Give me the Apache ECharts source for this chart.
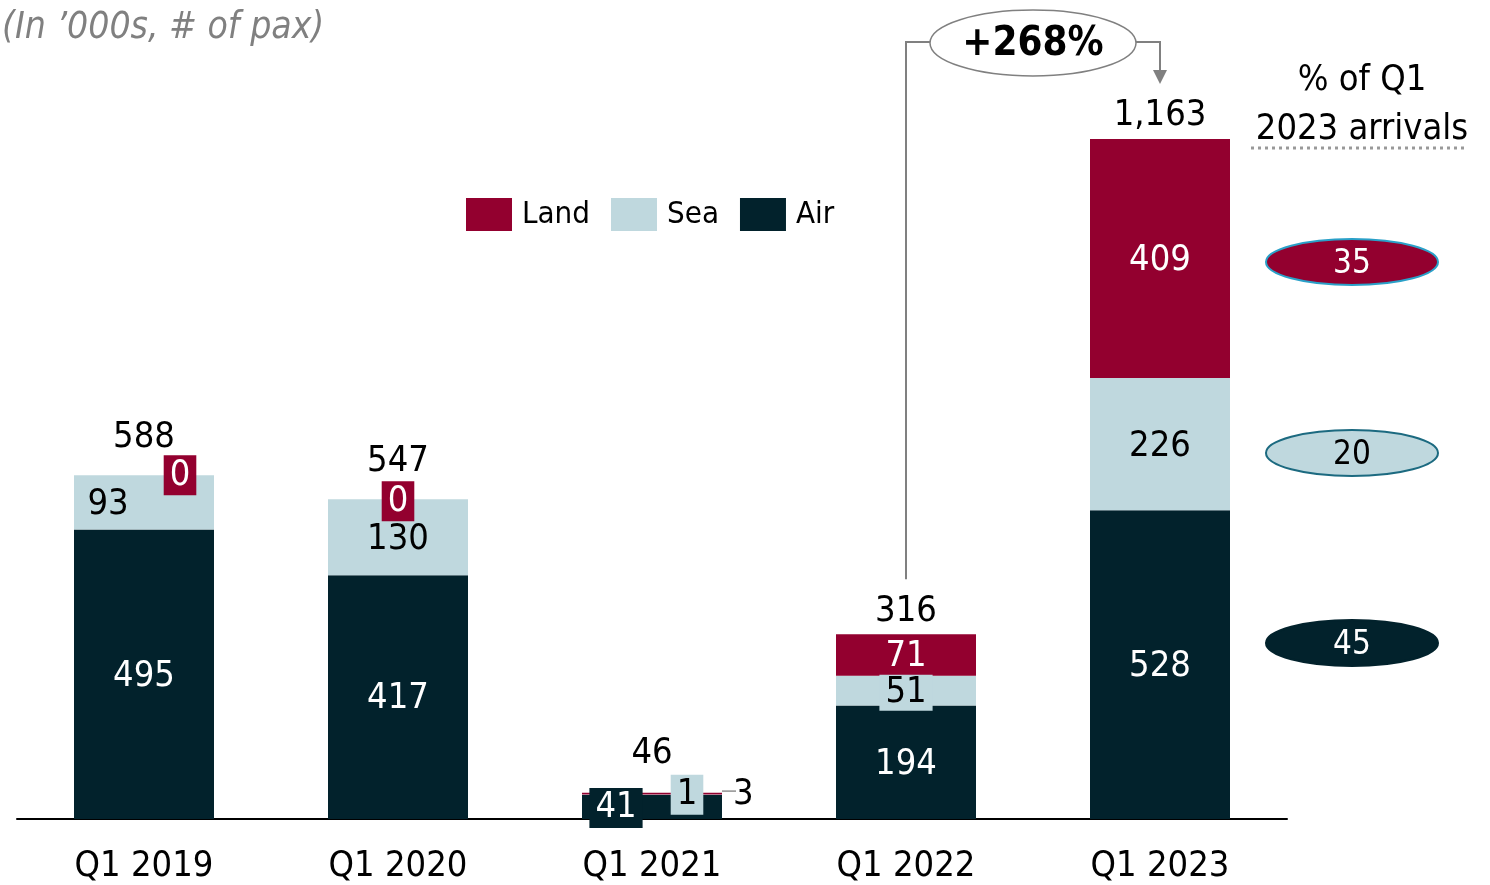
<!DOCTYPE html>
<html>
<head>
<meta charset="utf-8">
<script src="https://cdn.jsdelivr.net/npm/echarts@6/dist/echarts.min.js"></script>
<style>
  html, body { margin: 0; padding: 0; background: #fff; }
  #chart { width: 1490px; height: 885px; }
</style>
</head>
<body>
<div id="chart"></div>
<script>
  // 数据
  var categories = ['Q1 2019', 'Q1 2020', 'Q1 2021', 'Q1 2022', 'Q1 2023'];
  var airValues = [495, 417, 41, 194, 528];
  var seaValues = [93, 130, 1, 51, 226];
  var landValues = [0, 0, 3, 71, 409];
  var totalValues = [588, 547, 46, 316, 1163];
  var shareLabels = ['Land', 'Sea', 'Air'];
  var shareValues = [35, 20, 45];
  var growthLabel = '+268%';

  var FONT = "'DejaVu Sans Condensed', 'DejaVu Sans', sans-serif";
  var LAND = '#93002f';
  var SEA = '#bfd8de';
  var AIR = '#02222c';

  var chart = echarts.init(document.getElementById('chart'));

  function fmt (v) {
    return String(v).replace(/\B(?=(\d{3})+(?!\d))/g, ',');
  }

  // 每个柱子的特殊标签位置
  var airData = airValues.map(function (v, i) {
    var item = { value: v };
    if (i === 2) {
      item.label = { offset: [-36, 1], backgroundColor: AIR, padding: [2, 6] };
    }
    return item;
  });
  var seaData = seaValues.map(function (v, i) {
    var item = { value: v };
    if (i === 0) item.label = { offset: [-36, 2] };
    if (i === 2) item.label = { offset: [35, 0], backgroundColor: SEA, padding: [2, 6] };
    if (i === 3) item.label = { backgroundColor: SEA, padding: [0, 6] };
    return item;
  });
  var landData = landValues.map(function (v, i) {
    var item = { value: v };
    if (i === 0) item.label = { offset: [36, 0], backgroundColor: LAND, padding: [2, 6] };
    if (i === 1) item.label = { backgroundColor: LAND, padding: [2, 6] };
    if (i === 2) {
      item.label = { position: 'right', distance: 11, color: '#000', offset: [0, 1] };
    }
    return item;
  });
  var totalData = totalValues.map(function (v, i) {
    var d = (i < 3) ? 20 : 5;
    return { value: v, label: { distance: d } };
  });

  var labelBase = {
    show: true,
    position: 'inside',
    offset: [0, 2],
    fontFamily: FONT,
    fontSize: 36
  };

  chart.setOption({
    animation: false,
    backgroundColor: '#fff',
    title: {
      text: '(In \u2019000s, # of pax)',
      left: 0,
      top: 0,
      padding: [10, 2],
      textStyle: {
        fontFamily: FONT,
        fontSize: 37,
        fontStyle: 'italic',
        fontWeight: 'normal',
        color: '#808080'
      }
    },
    legend: {
      data: ['Land', 'Sea', 'Air'],
      left: 466,
      top: 198,
      padding: 0,
      itemWidth: 46,
      itemHeight: 33,
      itemGap: 21,
      icon: 'rect',
      textStyle: { fontFamily: FONT, fontSize: 31, color: '#000', padding: [4, 0, 0, 5] }
    },
    grid: {
      left: 17,
      right: 203,
      top: 117.3,
      bottom: 65
    },
    xAxis: {
      type: 'category',
      data: categories,
      axisLine: { lineStyle: { color: '#000', width: 2 } },
      axisTick: { show: false },
      axisLabel: { fontFamily: FONT, fontSize: 36, color: '#000', margin: 30 }
    },
    yAxis: {
      type: 'value',
      min: 0,
      max: 1200,
      show: false,
      splitLine: { show: false }
    },
    series: [
      {
        name: 'Air',
        type: 'bar',
        stack: 'pax',
        barWidth: 140,
        itemStyle: { color: AIR },
        label: Object.assign({ color: '#fff' }, labelBase),
        data: airData
      },
      {
        name: 'Sea',
        type: 'bar',
        stack: 'pax',
        barWidth: 140,
        itemStyle: { color: SEA },
        label: Object.assign({ color: '#000' }, labelBase),
        data: seaData
      },
      {
        name: 'Land',
        type: 'bar',
        stack: 'pax',
        barWidth: 140,
        itemStyle: { color: LAND },
        label: Object.assign({ color: '#fff' }, labelBase),
        data: landData
      },
      {
        // 总数标签：透明柱
        name: 'Total',
        type: 'bar',
        barWidth: 140,
        barGap: '-100%',
        silent: true,
        z: 1,
        itemStyle: { color: 'rgba(0,0,0,0)' },
        label: {
          show: true,
          position: 'top',
          fontFamily: FONT,
          fontSize: 36,
          color: '#000',
          formatter: function (p) { return fmt(p.value); }
        },
        data: totalData
      }
    ]
  });

  // 注释：增长箭头、右侧占比椭圆
  var x21 = chart.convertToPixel({ xAxisIndex: 0 }, categories[2]);
  var x22 = chart.convertToPixel({ xAxisIndex: 0 }, categories[3]);
  var x23 = chart.convertToPixel({ xAxisIndex: 0 }, categories[4]);
  var yTop22 = chart.convertToPixel({ yAxisIndex: 0 }, totalValues[3]);
  var yTop21 = chart.convertToPixel({ yAxisIndex: 0 }, totalValues[2]);
  var lineY = 42;
  var gx = 1033;
  var grey = '#808080';

  var shareFill = { Land: LAND, Sea: SEA, Air: AIR };
  var shareStroke = { Land: '#2aa0c8', Sea: '#1c6a80', Air: AIR };
  var shareText = { Land: '#fff', Sea: '#000', Air: '#fff' };
  var shareY = [262, 453, 643];

  var graphics = [
    {
      type: 'line',
      shape: { x1: x21 + 70, y1: yTop21 - 1, x2: x21 + 84, y2: yTop21 - 1 },
      style: { stroke: '#909090', lineWidth: 1.5 }
    },
    {
      type: 'polyline',
      shape: { points: [[x22, yTop22 - 55], [x22, lineY], [gx - 103, lineY]] },
      style: { stroke: grey, lineWidth: 2, fill: null }
    },
    {
      type: 'polyline',
      shape: { points: [[gx + 103, lineY], [x23, lineY], [x23, 72]] },
      style: { stroke: grey, lineWidth: 2, fill: null }
    },
    {
      type: 'polygon',
      shape: { points: [[x23 - 7, 70], [x23 + 7, 70], [x23, 84]] },
      style: { fill: grey }
    },
    {
      type: 'ellipse',
      shape: { cx: gx, cy: 43, rx: 103, ry: 33 },
      style: { fill: '#fff', stroke: grey, lineWidth: 1.5 }
    },
    {
      type: 'text',
      x: gx,
      y: 45,
      style: {
        text: growthLabel,
        font: 'bold 40px ' + FONT,
        fill: '#000',
        align: 'center',
        verticalAlign: 'middle'
      }
    },
    {
      type: 'text',
      x: 1362,
      y: 105,
      style: {
        text: '% of Q1\n2023 arrivals',
        font: '36px ' + FONT,
        lineHeight: 49,
        fill: '#000',
        align: 'center',
        verticalAlign: 'middle'
      }
    },
    {
      type: 'line',
      shape: { x1: 1251, y1: 148, x2: 1468, y2: 148 },
      style: { stroke: '#999', lineWidth: 3, lineDash: [3, 4] }
    }
  ];

  shareLabels.forEach(function (name, i) {
    graphics.push({
      type: 'ellipse',
      shape: { cx: 1352, cy: shareY[i], rx: 86, ry: 23 },
      style: { fill: shareFill[name], stroke: shareStroke[name], lineWidth: 2 }
    });
    graphics.push({
      type: 'text',
      x: 1352,
      y: shareY[i] + 2,
      style: {
        text: String(shareValues[i]),
        font: '33px ' + FONT,
        fill: shareText[name],
        align: 'center',
        verticalAlign: 'middle'
      }
    });
  });

  chart.setOption({ graphic: graphics });
</script>
</body>
</html>
